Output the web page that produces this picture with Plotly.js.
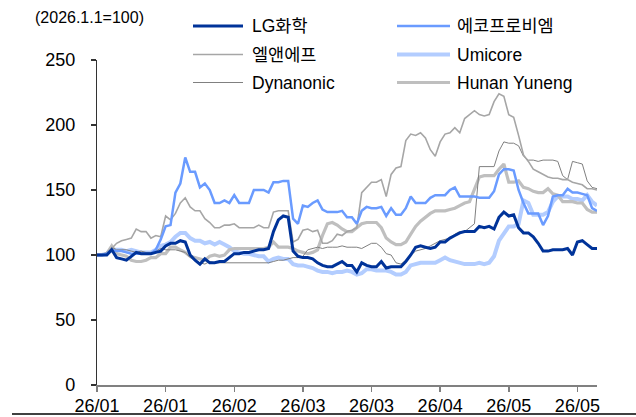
<!DOCTYPE html>
<html>
<head>
<meta charset="utf-8">
<script src="https://cdn.plot.ly/plotly-3.0.1.min.js"></script>
<style>html,body{margin:0;padding:0;background:#fff;}#chart{width:636px;height:417px;}</style>
</head>
<body>
<div id="chart"></div>
<script>
// ---- data (index = trading day from 2026-01-01, base 100) ----
const tickLabels = ["26/01","26/01","26/02","26/03","26/03","26/04","26/05","26/05"];
const tickIndex = [0,14,28,42,56,70,84,98];
const seriesNames = ["LG화학","에코프로비엠","엘앤에프","Umicore","Dynanonic","Hunan Yuneng"];

const lgChem = [100,100,100,104,98,97,96,99,102,101,101,101,102,103,107,109,109,111,110,100,96,93,97,94,94,95,95,98,101,101,102,102,103,104,104,105,118,127,130,129,103,99,98,98,97,94,92,91,91,93,95,92,92,87,94,92,91,91,95,90,91,91,91,95,100,106,107,106,105,106,110,110,113,115,117,118,118,118,122,121,122,120,129,133,130,131,121,117,117,114,109,103,103,104,104,104,105,100,110,111,108,105,105];
const ecoproBM = [100,100,101,104,103,103,102,101,101,101,101,101,104,112,122,123,148,155,175,164,164,152,155,150,140,140,142,140,146,140,140,140,150,150,150,148,156,156,157,157,128,124,138,137,140,142,135,133,133,133,134,129,129,124,134,137,136,136,137,130,136,131,131,136,145,140,140,140,144,146,146,146,150,152,145,145,145,145,144,144,144,149,162,166,166,165,150,140,132,132,132,123,130,145,146,146,151,148,148,147,146,136,134];
const lnf = [100,100,102,105,109,111,112,113,120,118,118,113,115,114,130,127,132,140,144,137,134,134,128,125,121,121,123,123,124,121,121,121,121,123,121,121,133,134,134,134,110,112,119,120,118,119,109,109,111,116,115,118,119,121,148,152,156,156,158,145,162,167,168,188,193,192,194,190,181,176,187,193,194,198,194,205,208,211,208,207,208,218,224,222,208,206,192,177,172,166,164,162,160,159,159,158,158,156,155,154,151,151,150];
const umicore = [100,100,101,104,104,104,103,104,103,102,102,102,104,107,108,110,114,117,117,113,111,111,109,110,108,110,108,106,103,102,101,101,100,99,99,95,97,98,97,97,93,92,92,91,90,88,87,87,86,87,87,88,87,85,86,89,89,88,88,88,87,85,85,87,92,93,94,94,94,94,96,98,96,95,94,93,93,93,94,93,94,99,111,116,122,122,124,142,140,131,131,131,133,141,145,145,145,143,143,142,146,141,138];
const dynanonic = [100,100,101,106,104,104,104,103,102,103,102,102,103,105,104,104,104,103,102,98,96,94,93,95,94,94,94,94,94,94,94,94,94,94,94,94,95,96,96,97,98,98,99,104,105,106,105,106,106,106,107,106,106,106,105,107,109,109,106,101,100,94,93,96,100,103,104,105,107,109,111,112,113,116,118,118,121,124,168,168,168,168,180,187,186,186,184,176,173,173,172,173,173,173,172,161,158,172,171,170,157,152,151];
const hunanYuneng = [100,100,101,107,101,100,99,96,95,95,96,98,98,101,101,106,106,104,102,99,98,97,96,99,100,99,100,104,105,105,105,105,105,105,105,106,110,106,106,106,105,103,102,101,102,104,115,124,125,123,120,118,118,121,124,125,125,125,121,113,110,108,108,110,116,122,126,129,132,134,134,134,135,136,138,140,141,150,160,161,161,161,166,170,156,156,157,152,151,149,148,148,151,147,146,141,141,141,140,140,135,133,133];

const seriesValues = [lgChem, ecoproBM, lnf, umicore, dynanonic, hunanYuneng];
const seriesColors = ["#003399","#6a9bff","#a6a6a6","#b3cdff","#808080","#bfbfbf"];
const seriesWidths = [3, 2.5, 1.6, 4, 1, 3.2];
// draw order (back to front)
const drawOrder = [3,5,4,2,1,0];

const FONT = "'Liberation Sans',Arial,'Noto Sans CJK KR',sans-serif";

// plot-area pixel geometry
const W = 636, H = 417, L = 97, R = 597, T = 60, B = 385;
const px = x => (x - L) / (R - L);
const py = y => (B - y) / (B - T);

const traces = drawOrder.map(k => ({
  type: "scatter", mode: "lines",
  x: seriesValues[k].map((_, i) => i),
  y: seriesValues[k],
  name: seriesNames[k],
  line: {color: seriesColors[k], width: seriesWidths[k], shape: "linear"},
  showlegend: false, hoverinfo: "skip"
}));

// custom legend (2 columns x 3 rows)
const shapes = [];
const annotations = [];
const colLineX = [[193,243],[397,450]];
const colTextX = [250,455];
const rowY = [26,54.5,82.5];
seriesNames.forEach((nm, k) => {
  const c = k % 2, r = Math.floor(k / 2);
  shapes.push({type:"line", xref:"paper", yref:"paper",
    x0: px(colLineX[c][0]), x1: px(colLineX[c][1]), y0: py(rowY[r]), y1: py(rowY[r]),
    line:{color: seriesColors[k], width: seriesWidths[k]}});
  annotations.push({xref:"paper", yref:"paper", x: px(colTextX[c]), y: py(rowY[r]),
    xanchor:"left", yanchor:"middle", showarrow:false, text: nm,
    font:{family: FONT, size: 17.5, color:"#000"}});
});
// unit label
annotations.push({xref:"paper", yref:"paper", x: px(33), y: py(18), xanchor:"left", yanchor:"middle",
  showarrow:false, text:"(2026.1.1=100)", font:{family: FONT, size: 16, color:"#000"}});
// bottom frame line
shapes.push({type:"line", xref:"paper", yref:"paper", x0: px(12), x1: px(636), y0: py(414), y1: py(414),
  line:{color:"#000", width:1.5}});

const layout = {
  width: W, height: H,
  margin: {l: L, r: W - R, t: T, b: H - B, pad: 0},
  paper_bgcolor: "#fff", plot_bgcolor: "#fff",
  showlegend: false,
  xaxis: {
    range: [0, 102], tickmode: "array", tickvals: tickIndex, ticktext: tickLabels,
    showgrid: false, zeroline: false, showline: true, linecolor: "#808080", linewidth: 2,
    ticks: "outside", ticklen: 5, tickcolor: "#808080", tickwidth: 1.5,
    ticklabelstandoff: -2,
    tickfont: {family: FONT, size: 18, color: "#000"}, fixedrange: true
  },
  yaxis: {
    range: [0, 250], tickmode: "array", tickvals: [0,50,100,150,200,250],
    showgrid: false, zeroline: false, showline: true, linecolor: "#333", linewidth: 1.2,
    ticks: "outside", ticklen: 5, tickcolor: "#333", tickwidth: 1.2,
    ticklabelstandoff: 12,
    tickfont: {family: FONT, size: 18, color: "#000"}, fixedrange: true
  },
  shapes: shapes,
  annotations: annotations
};

Plotly.newPlot("chart", traces, layout, {staticPlot: true, displayModeBar: false});
</script>
</body>
</html>
